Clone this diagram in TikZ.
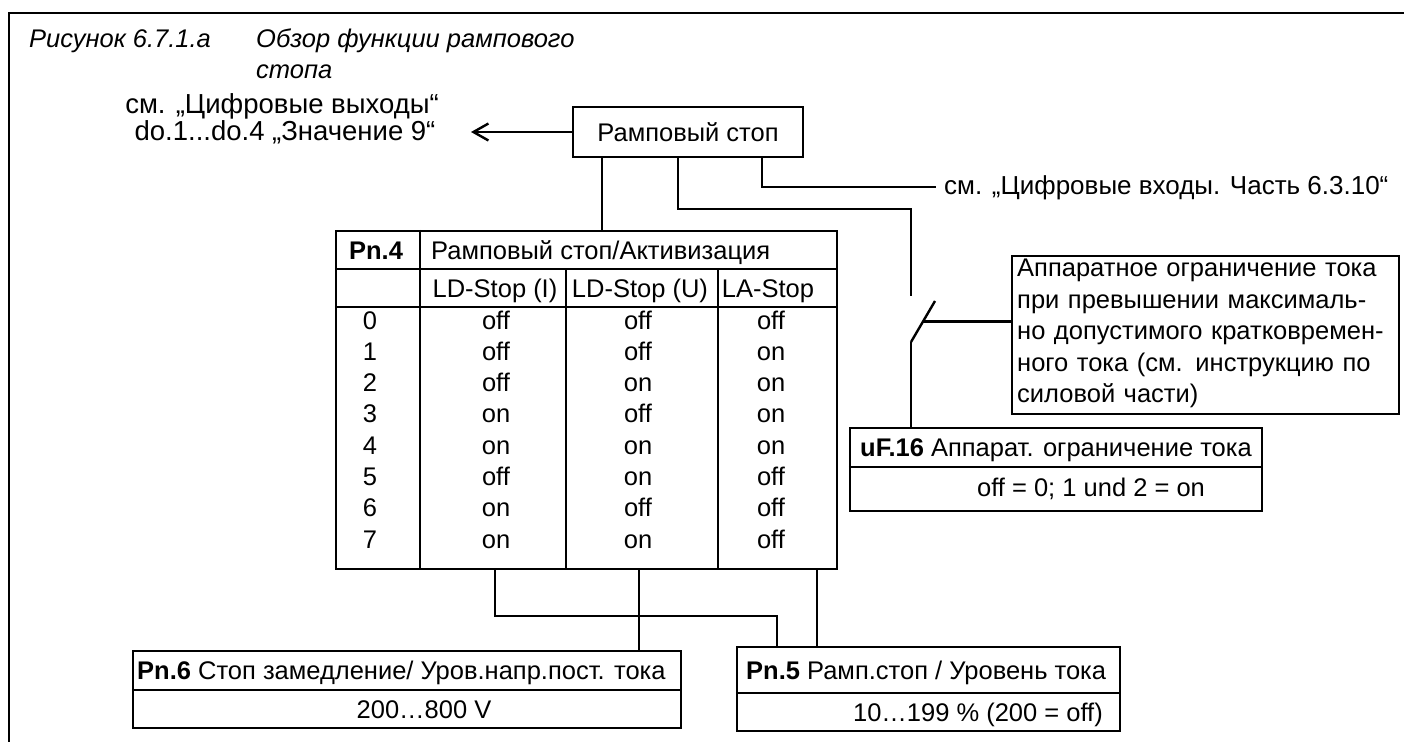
\documentclass[tikz,border=0pt]{standalone}
\usepackage{fontspec}
\setmainfont{Liberation Sans}
\usetikzlibrary{arrows.meta,calc}
\begin{document}
\begin{tikzpicture}[x=1pt,y=-1pt,line width=2.4pt,
  every node/.style={font=\fontsize{25.5}{31.5}\selectfont,inner sep=0pt},
  frame/.style={draw,line width=2.4pt,inner sep=0pt}]
 \useasboundingbox (0,0) rectangle (1404,742);
 \draw (1404,13) -- (9,13) -- (9,742);
 % title
 \node[anchor=base west,font=\fontsize{25.5}{31.5}\selectfont\itshape] (fignum) at (28,47) {Рисунок 6.7.1.а};
 \node[anchor=base west,font=\fontsize{25.5}{31.5}\selectfont\itshape] (figcapa) at (255,47) {Обзор функции рампового};
 \node[anchor=base west,font=\fontsize{25.5}{31.5}\selectfont\itshape] (figcapb) at (255,78) {стопа};
 % ramp stop
 \node[frame,minimum width=230pt,minimum height=50pt] (stop) at (688,132) {Рамповый стоп};
 \coordinate (outarrow) at (471,132);
 \draw[-{Straight Barb[length=15pt,width=17pt]}] (stop.west) -- (outarrow);
 \node[anchor=base,font=\fontsize{27.5}{31.5}\selectfont] (doa) at (282,113) {см. „Цифровые выходы“};
 \node[anchor=base,font=\fontsize{27.5}{31.5}\selectfont] (dob) at (285,140) {do.1...do.4 „Значение 9“};
 \node[anchor=base west,inner xsep=7pt,font=\fontsize{26}{31.5}\selectfont] (inlabel) at (936,194) {см. „Цифровые входы. Часть 6.3.10“};
 \draw (stop.south -| 762,0) |- (inlabel.west);
 % Pn.4 table
 \node[frame,minimum width=501pt,minimum height=338pt] (pnfour) at (586.5,400) {};
 \draw (pnfour.north -| 420,0) -- (pnfour.south -| 420,0);
 \foreach \ry in {269,307}
   \draw (pnfour.west |- 0,\ry) -- (pnfour.east |- 0,\ry);
 \foreach \cx in {566,718}
   \draw (\cx,269) -- (pnfour.south -| \cx,0);
 \node[anchor=base] (pnfourt) at (376,259) {\textbf{Pn.4}};
 \node[anchor=base west] (pnfourh) at (430,259) {Рамповый стоп/Активизация};
 \node[anchor=base] (ldi) at (495,297) {LD-Stop (I)};
 \node[anchor=base] (ldu) at (640,297) {LD-Stop (U)};
 \node[anchor=base] (la) at (768,297) {LA-Stop};
 \foreach \n/\a/\b/\c [count=\i from 0] in {0/off/off/off,1/off/off/on,2/off/on/on,3/on/off/on,
     4/on/on/on,5/off/on/off,6/on/off/off,7/on/on/off} {
   \node[anchor=base] (val\n) at (370,329+31.3*\i) {\n};
   \node[anchor=base] (ldi\n) at (496,329+31.3*\i) {\a};
   \node[anchor=base] (ldu\n) at (638,329+31.3*\i) {\b};
   \node[anchor=base] (la\n) at (771,329+31.3*\i) {\c};
 }
 \draw (stop.south -| 602,0) -- (pnfour.north -| 602,0);
 % hardware current limit
 \node[frame,minimum width=387pt,minimum height=158pt] (hwnote) at (1205.5,335) {};
 \node[anchor=north west,text width=370pt,align=left] (hwtext) at (1016,258)
   {\makebox[365pt][s]{Аппаратное ограничение тока}\\
    \makebox[365pt][s]{при превышении максималь-}\\
    \makebox[365pt][s]{но допустимого кратковремен-}\\
    \makebox[365pt][s]{ного тока (см. инструкцию по}\\
    силовой части)};
 \node[frame,minimum width=412pt,minimum height=83pt] (uf) at (1056,469.5) {};
 \draw (uf.west |- 0,467) -- (uf.east |- 0,467);
 \node[anchor=base west] (uft) at (859,456) {\textbf{uF.16} Аппарат. ограничение тока};
 \node[anchor=base] (ufv) at (1091,496) {off = 0; 1 und 2 = on};
 \coordinate (swtop) at (911,296);
 \coordinate (swpivot) at (911,342);
 \coordinate (swtip) at (935,301);
 \coordinate (lev) at ($(swpivot)!0.5!(swtip)$);
 \draw (stop.south -| 678,0) -- (678,209) -| (swtop);
 \draw (swpivot) -- (swtip);
 \draw (swpivot) -- (swpivot |- uf.north);
 \draw (lev) -- (lev -| hwnote.west);
 % Pn.6 and Pn.5
 \node[frame,minimum width=548pt,minimum height=77pt] (pnsix) at (407,689.5) {};
 \draw (pnsix.west |- 0,690) -- (pnsix.east |- 0,690);
 \node[anchor=base west] (pnsixt) at (136,679) {\textbf{Pn.6} Стоп замедление/ Уров.напр.пост. тока};
 \node[anchor=base] (pnsixv) at (424,718) {200…800 V};
 \node[frame,minimum width=383pt,minimum height=84pt] (pnfive) at (928.5,689) {};
 \draw (pnfive.west |- 0,693) -- (pnfive.east |- 0,693);
 \node[anchor=base west] (pnfivet) at (745,679) {\textbf{Pn.5} Рамп.стоп / Уровень тока};
 \node[anchor=base east] (pnfivev) at (1104,721) {10…199 \% (200 = off)};
 \draw (pnfour.south -| 639,0) -- (pnsix.north -| 639,0);
 \draw (pnfour.south -| 495,0) -- (495,616) -| (pnfive.north -| 777,0);
 \draw (pnfour.south -| 817,0) -- (pnfive.north -| 817,0);
\end{tikzpicture}
\end{document}
